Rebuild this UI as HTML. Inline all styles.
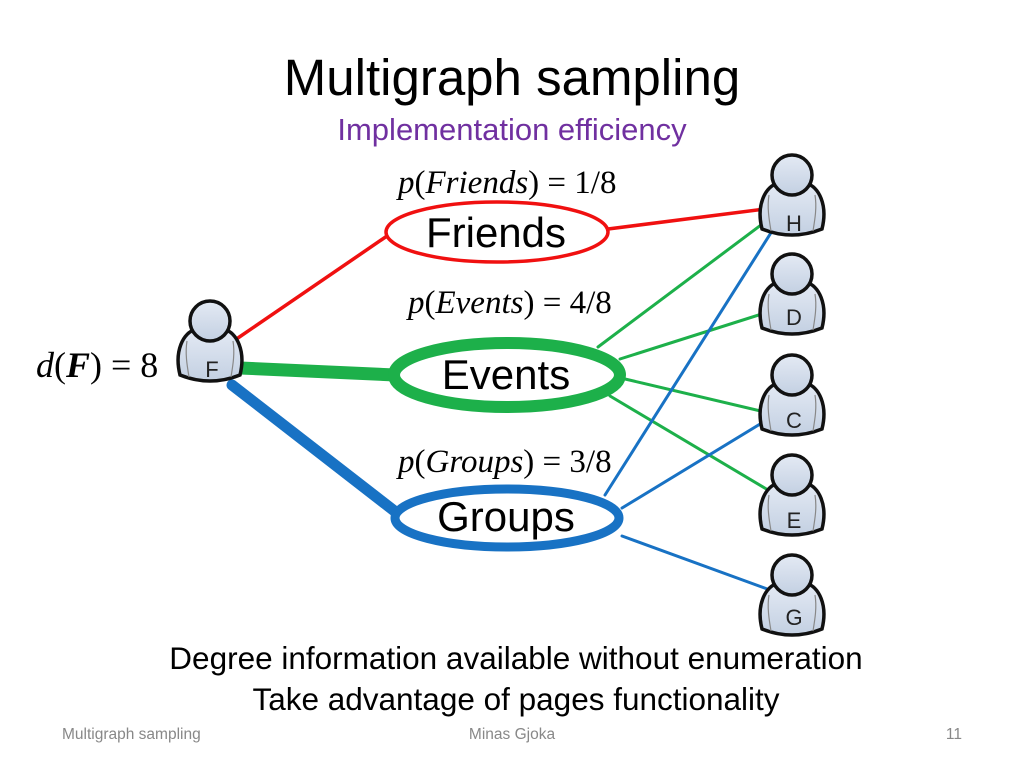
<!DOCTYPE html>
<html><head><meta charset="utf-8"><style>
body{margin:0;width:1024px;height:768px;background:#fff;overflow:hidden}
</style></head><body>
<svg width="1024" height="768" xmlns="http://www.w3.org/2000/svg">
<defs>
<linearGradient id="pg" x1="0" y1="0" x2="0" y2="1"><stop offset="0" stop-color="#e4eaf4"/><stop offset="1" stop-color="#c3d0e2"/></linearGradient>
<g id="person">
<path d="M-30,54 C-36,30 -27,12 -14,8 L14,8 C27,12 36,30 30,54 C10,62 -10,62 -30,54 Z" fill="url(#pg)" stroke="#111" stroke-width="3.5"/>
<path d="M-23,20 C-25,32 -23,44 -21,56 M23,20 C25,32 23,44 21,56" fill="none" stroke="#888" stroke-width="1.2"/>
<circle cx="0" cy="0" r="20" fill="url(#pg)" stroke="#111" stroke-width="3.5"/>
</g>
</defs>
<g font-family="Liberation Sans, sans-serif">
<text x="512" y="95" font-size="51" text-anchor="middle">Multigraph sampling</text>
<text x="512" y="140" font-size="31" text-anchor="middle" fill="#7030a0">Implementation efficiency</text>
</g>
<g fill="none" stroke-linecap="round">
<line x1="235" y1="340" x2="387" y2="236" stroke="#f01010" stroke-width="3.5"/>
<line x1="608" y1="229" x2="765" y2="209" stroke="#f01010" stroke-width="3.5"/>
<line x1="240" y1="368" x2="395" y2="375" stroke="#1db04a" stroke-width="13"/>
<line x1="232" y1="385" x2="397" y2="513" stroke="#1872c4" stroke-width="11"/>
<line x1="598" y1="347" x2="765" y2="222" stroke="#1db04a" stroke-width="3"/>
<line x1="620" y1="359" x2="765" y2="313" stroke="#1db04a" stroke-width="3"/>
<line x1="625" y1="379" x2="765" y2="412" stroke="#1db04a" stroke-width="3"/>
<line x1="610" y1="396" x2="768" y2="490" stroke="#1db04a" stroke-width="3"/>
<line x1="605" y1="495" x2="774" y2="228" stroke="#1872c4" stroke-width="3"/>
<line x1="622" y1="508" x2="770" y2="418" stroke="#1872c4" stroke-width="3"/>
<line x1="622" y1="536" x2="770" y2="590" stroke="#1872c4" stroke-width="3"/>
</g>
<ellipse cx="497" cy="232" rx="111" ry="30" fill="#fff" stroke="#f01010" stroke-width="3.5"/>
<ellipse cx="507" cy="375" rx="113" ry="32" fill="#fff" stroke="#1db04a" stroke-width="12"/>
<ellipse cx="507" cy="518" rx="112" ry="29" fill="#fff" stroke="#1872c4" stroke-width="9"/>
<g font-family="Liberation Sans, sans-serif" font-size="42" text-anchor="middle">
<text x="496" y="247">Friends</text>
<text x="506" y="389">Events</text>
<text x="506" y="531">Groups</text>
</g>
<g font-family="Liberation Sans, sans-serif" font-size="22" text-anchor="middle" fill="#222">
<use href="#person" x="210" y="321"/><text x="212" y="377">F</text>
<use href="#person" x="792" y="175"/><text x="794" y="231">H</text>
<use href="#person" x="792" y="274"/><text x="794" y="325">D</text>
<use href="#person" x="792" y="375"/><text x="794" y="428">C</text>
<use href="#person" x="792" y="475"/><text x="794" y="528">E</text>
<use href="#person" x="792" y="575"/><text x="794" y="625">G</text>
</g>
<g font-family="Liberation Serif, serif" font-size="33">
<text x="398" y="193"><tspan font-style="italic">p</tspan>(<tspan font-style="italic">Friends</tspan>) = 1/8</text>
<text x="408" y="313"><tspan font-style="italic">p</tspan>(<tspan font-style="italic">Events</tspan>) = 4/8</text>
<text x="398" y="472"><tspan font-style="italic">p</tspan>(<tspan font-style="italic">Groups</tspan>) = 3/8</text>
<text x="36" y="377" font-size="36"><tspan font-style="italic">d</tspan>(<tspan font-style="italic" font-weight="bold">F</tspan>) = 8</text>
</g>
<g font-family="Liberation Sans, sans-serif" font-size="31.5" text-anchor="middle">
<text x="516" y="669">Degree information available without enumeration</text>
<text x="516" y="710">Take advantage of pages functionality</text>
</g>
<g font-family="Liberation Sans, sans-serif" font-size="15.5" fill="#888">
<text x="62" y="739">Multigraph sampling</text>
<text x="512" y="739" text-anchor="middle">Minas Gjoka</text>
<text x="962" y="739" text-anchor="end">11</text>
</g>
</svg>
</body></html>
